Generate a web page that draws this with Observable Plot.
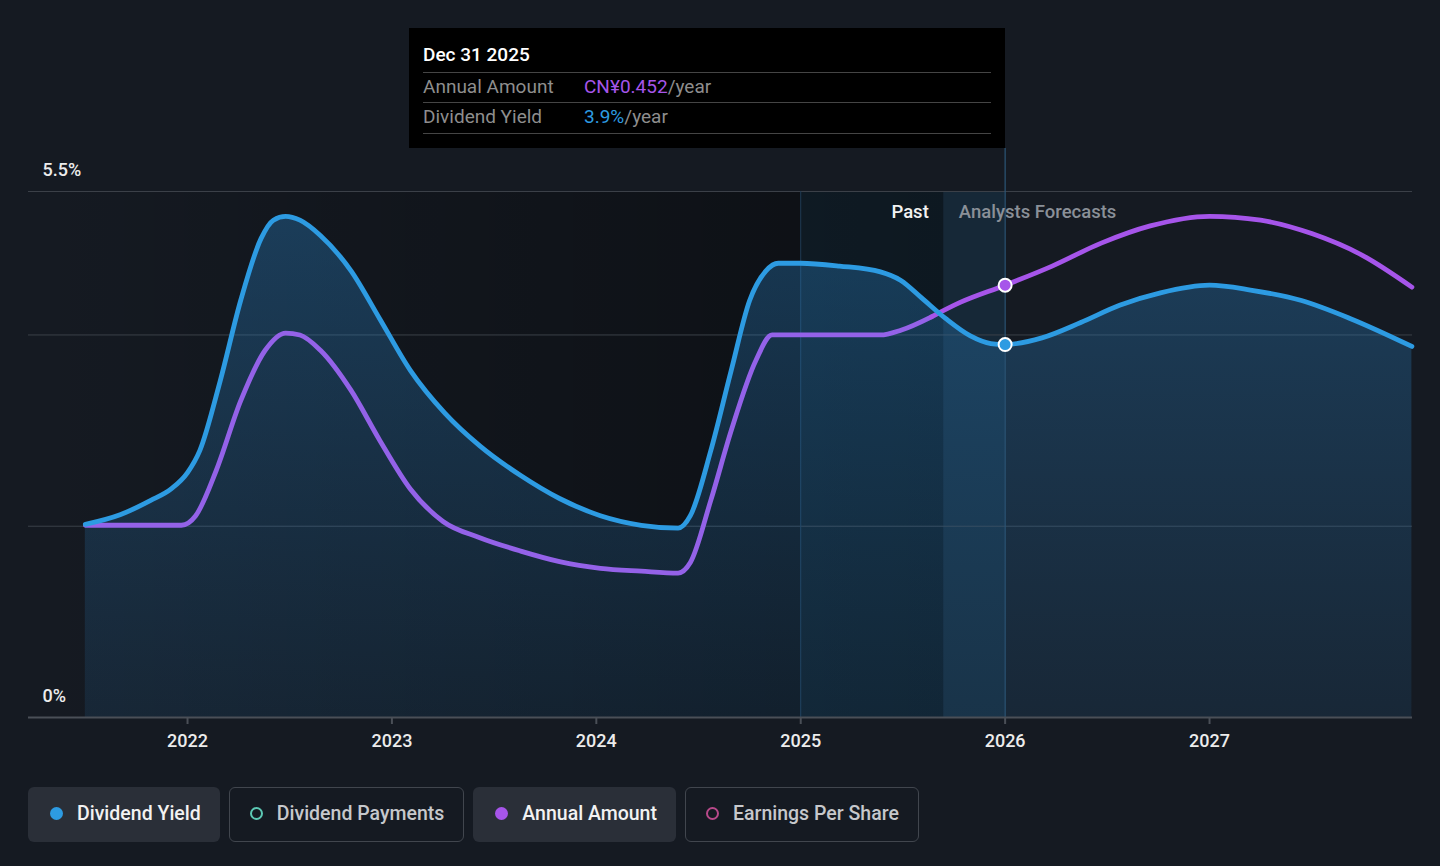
<!DOCTYPE html>
<html>
<head>
<meta charset="utf-8">
<script src="https://cdn.jsdelivr.net/npm/d3@7"></script>
<script src="https://cdn.jsdelivr.net/npm/@observablehq/plot@0.6"></script>
<style>
  html, body { margin: 0; padding: 0; background: #151a22; width: 1440px; height: 866px; overflow: hidden; font-family: Roboto, "Noto Sans", sans-serif; }
  #wrap { position: relative; width: 1440px; height: 866px; }
  #chart { position: absolute; left: 0; top: 0; }
  #tip { position: absolute; left: 409px; top: 28px; width: 596px; height: 120px; background: #000; box-sizing: border-box; }
  #tip .date { position: absolute; left: 14px; top: 26px; transform: translateY(-50%); color: #fff; font-size: 19px; font-weight: 500; white-space: nowrap; }
  #tip .sep { position: absolute; left: 14px; width: 568px; height: 1px; background: #454545; }
  #tip .row { position: absolute; left: 14px; font-size: 19px; color: #8e8e8e; transform: translateY(-50%); white-space: nowrap; }
  #tip .row .lab { display: inline-block; width: 161px; }
  #legend { position: absolute; left: 28px; top: 787px; display: flex; gap: 9px; }
  .btn { height: 55px; box-sizing: border-box; border-radius: 6px; display: flex; align-items: center; padding: 0 19px 2px 22px; font-size: 19.5px; font-weight: 500; white-space: nowrap; }
  .btn.on { background: #2a2f38; color: #f2f2f2; }
  .btn.off { border: 1.5px solid #41464e; color: #c6c8cc; padding: 0 19px 2px 20px; }
  .btn .dot { width: 13px; height: 13px; border-radius: 50%; margin-right: 14px; box-sizing: border-box; }
</style>
</head>
<body>
<div id="wrap">
  <div id="chart"></div>
  <div id="tip"></div>
  <div id="legend"></div>
</div>
<script>
// ---- data ----
const yieldYears  = [2021.50, 2021.67, 2021.82, 2021.92, 2022.00, 2022.06, 2022.16, 2022.26, 2022.36, 2022.42, 2022.48, 2022.55, 2022.65, 2022.80, 2022.94, 2023.09, 2023.26, 2023.43, 2023.63, 2023.82, 2024.02, 2024.22, 2024.40, 2024.46, 2024.56, 2024.66, 2024.75, 2024.83, 2024.89, 2025.00, 2025.19, 2025.39, 2025.49, 2025.59, 2025.71, 2025.83, 2025.93, 2026.00, 2026.18, 2026.37, 2026.56, 2026.76, 2027.00, 2027.20, 2027.45, 2027.69, 2027.99];
const yieldValues = [2.02, 2.12, 2.27, 2.39, 2.56, 2.79, 3.52, 4.36, 5.01, 5.20, 5.24, 5.20, 5.04, 4.67, 4.17, 3.63, 3.18, 2.84, 2.53, 2.29, 2.11, 2.01, 1.98, 2.11, 2.79, 3.63, 4.36, 4.67, 4.75, 4.75, 4.72, 4.66, 4.57, 4.39, 4.17, 3.99, 3.91, 3.90, 3.97, 4.13, 4.31, 4.44, 4.52, 4.47, 4.36, 4.17, 3.88];

const amountYears  = [2021.50, 2021.97, 2022.04, 2022.14, 2022.26, 2022.38, 2022.48, 2022.55, 2022.65, 2022.80, 2022.94, 2023.09, 2023.25, 2023.43, 2023.63, 2023.82, 2024.02, 2024.22, 2024.40, 2024.46, 2024.56, 2024.66, 2024.78, 2024.86, 2025.39, 2025.49, 2025.64, 2025.78, 2026.00, 2026.23, 2026.47, 2026.71, 2027.00, 2027.25, 2027.50, 2027.75, 2027.99];
const amountValues = [0.201, 0.201, 0.211, 0.258, 0.331, 0.384, 0.402, 0.400, 0.384, 0.342, 0.290, 0.239, 0.205, 0.188, 0.174, 0.163, 0.156, 0.153, 0.151, 0.162, 0.227, 0.300, 0.373, 0.400, 0.400, 0.405, 0.419, 0.434, 0.452, 0.472, 0.496, 0.514, 0.524, 0.520, 0.506, 0.483, 0.450]; // CN¥ per year

const yearTicks = [2022, 2023, 2024, 2025, 2026, 2027];
const yLabelTicks = [0, 5.5];
const gridValues = [2, 4, 5.5];
const xDomain = [2021.222, 2027.993];
const yDomain = [0, 5.5];
const amountToPct = 10;           // secondary scale: CN¥0.55 ↔ 5.5%
const pastStart = 2025;           // highlighted "recent" band
const pastEnd = 2025.7;           // Past | Analysts Forecasts boundary
const selectedYear = 2026;        // hovered date (Dec 31 2025)

const yieldData = yieldYears.map((x, i) => ({x, y: yieldValues[i]}));
const amountData = amountYears.map((x, i) => ({x, v: amountValues[i], y: amountValues[i] * amountToPct}));
const amountPast = amountData.filter(d => d.x <= pastEnd + 0.001);
const amountFuture = amountData.filter(d => d.x >= 2025.64);

const selYield = yieldData.find(d => d.x === selectedYear);
const selAmount = amountData.find(d => d.x === selectedYear);

const BLUE = "#2d9be2";
const PURPLE_PAST = "#9462e8";
const PURPLE = "#a655ea";

const defs = () => {
  const g = d3.create("svg:defs");
  const a = g.append("linearGradient").attr("id", "areaGrad").attr("x1", 0).attr("y1", 0).attr("x2", 0).attr("y2", 1);
  a.append("stop").attr("offset", "0%").attr("stop-color", "#2a86cc").attr("stop-opacity", 0.34);
  a.append("stop").attr("offset", "100%").attr("stop-color", "#2a7ab8").attr("stop-opacity", 0.14);
  const p = g.append("linearGradient").attr("id", "pastGrad").attr("x1", 0).attr("y1", 0).attr("x2", 1).attr("y2", 0);
  p.append("stop").attr("offset", "0%").attr("stop-color", "#000").attr("stop-opacity", 0);
  p.append("stop").attr("offset", "100%").attr("stop-color", "#000").attr("stop-opacity", 0.42);
  return g.node();
};

const chart = Plot.plot({
  width: 1440,
  height: 866,
  marginLeft: 28,
  marginRight: 28,
  marginTop: 191,
  marginBottom: 149,
  x: {domain: xDomain, axis: null},
  y: {domain: yDomain, axis: null},
  style: {background: "transparent", fontFamily: "Roboto, 'Noto Sans', sans-serif", overflow: "visible"},
  marks: [
    defs,
    // past darkening and highlighted bands
    Plot.rect([{}], {x1: xDomain[0], x2: pastEnd, y1: yDomain[0], y2: yDomain[1], fill: "url(#pastGrad)"}),
    Plot.rect([{}], {x1: pastStart, x2: selectedYear, y1: yDomain[0], y2: yDomain[1], fill: "#1e6aa0", fillOpacity: 0.1}),
    Plot.rect([{}], {x1: pastEnd, x2: selectedYear, y1: yDomain[0], y2: yDomain[1], fill: "#2a7ab8", fillOpacity: 0.07}),
    // grid
    Plot.ruleY(gridValues, {stroke: "#3b4048", strokeWidth: 1}),
    Plot.ruleX([pastStart], {y1: yDomain[0], y2: yDomain[1], stroke: "#1f3a52", strokeWidth: 1}),
    // area under dividend yield
    Plot.areaY(yieldData, {x: "x", y: "y", fill: "url(#areaGrad)", curve: "monotone-x"}),
    // hover line
    Plot.ruleX([selectedYear], {y1: yDomain[0], y2: yDomain[1] + 0.45, stroke: "#2c5677", strokeWidth: 1.2}),
    // x axis
    Plot.ruleY([0], {stroke: "#4a4f57", strokeWidth: 2}),
    Plot.axisX({ticks: yearTicks, tickFormat: d => String(d), label: null, tickSize: 7, tickPadding: 10, stroke: "#4a4f57", strokeWidth: 2, fill: "#ececec", fontSize: 18, fontWeight: 500}),
    // y labels
    Plot.text(yLabelTicks, {x: xDomain[0], y: d => d, text: d => d + "%", dx: 14, dy: -21, textAnchor: "start", fill: "#ececec", fontSize: 18, fontWeight: 500}),
    // lines
    Plot.line(amountPast, {x: "x", y: "y", stroke: PURPLE_PAST, strokeWidth: 4.8, curve: "monotone-x"}),
    Plot.line(amountFuture.filter(d => d.x >= pastEnd - 0.07), {x: "x", y: "y", stroke: PURPLE, strokeWidth: 4.8, curve: "monotone-x"}),
    Plot.line(yieldData, {x: "x", y: "y", stroke: BLUE, strokeWidth: 4.8, curve: "monotone-x"}),
    // labels
    Plot.text(["Past"], {x: pastEnd, y: yDomain[1], text: d => d, dx: -15, dy: 21, textAnchor: "end", fill: "#f2f2f2", fontSize: 18.5, fontWeight: 500}),
    Plot.text(["Analysts Forecasts"], {x: pastEnd, y: yDomain[1], text: d => d, dx: 15, dy: 21, textAnchor: "start", fill: "#8a9098", fontSize: 18.5, fontWeight: 500}),
    // selected points
    Plot.dot([selAmount], {x: "x", y: "y", r: 6.5, fill: PURPLE, stroke: "#fff", strokeWidth: 2}),
    Plot.dot([selYield], {x: "x", y: "y", r: 6.5, fill: BLUE, stroke: "#fff", strokeWidth: 2})
  ]
});
document.getElementById("chart").appendChild(chart);

// tooltip
const tip = document.getElementById("tip");
tip.innerHTML = `
  <div class="date">Dec 31 2025</div>
  <div class="sep" style="top:44px"></div>
  <div class="row" style="top:58px"><span class="lab">Annual Amount</span><span style="color:${PURPLE}">CN¥${selAmount.v.toFixed(3)}</span>/year</div>
  <div class="sep" style="top:74px"></div>
  <div class="row" style="top:88px"><span class="lab">Dividend Yield</span><span style="color:${BLUE}">${selYield.y.toFixed(1)}%</span>/year</div>
  <div class="sep" style="top:105px"></div>`;

// legend
const legendItems = [
  {label: "Dividend Yield", color: BLUE, on: true},
  {label: "Dividend Payments", color: "#5cc8b4", on: false},
  {label: "Annual Amount", color: PURPLE, on: true},
  {label: "Earnings Per Share", color: "#b8498a", on: false}
];
const legend = document.getElementById("legend");
legendItems.forEach(it => {
  const b = document.createElement("div");
  b.className = "btn " + (it.on ? "on" : "off");
  const dot = document.createElement("span");
  dot.className = "dot";
  if (it.on) dot.style.background = it.color; else dot.style.border = `2px solid ${it.color}`;
  b.appendChild(dot);
  b.appendChild(document.createTextNode(it.label));
  legend.appendChild(b);
});
</script>
</body>
</html>
